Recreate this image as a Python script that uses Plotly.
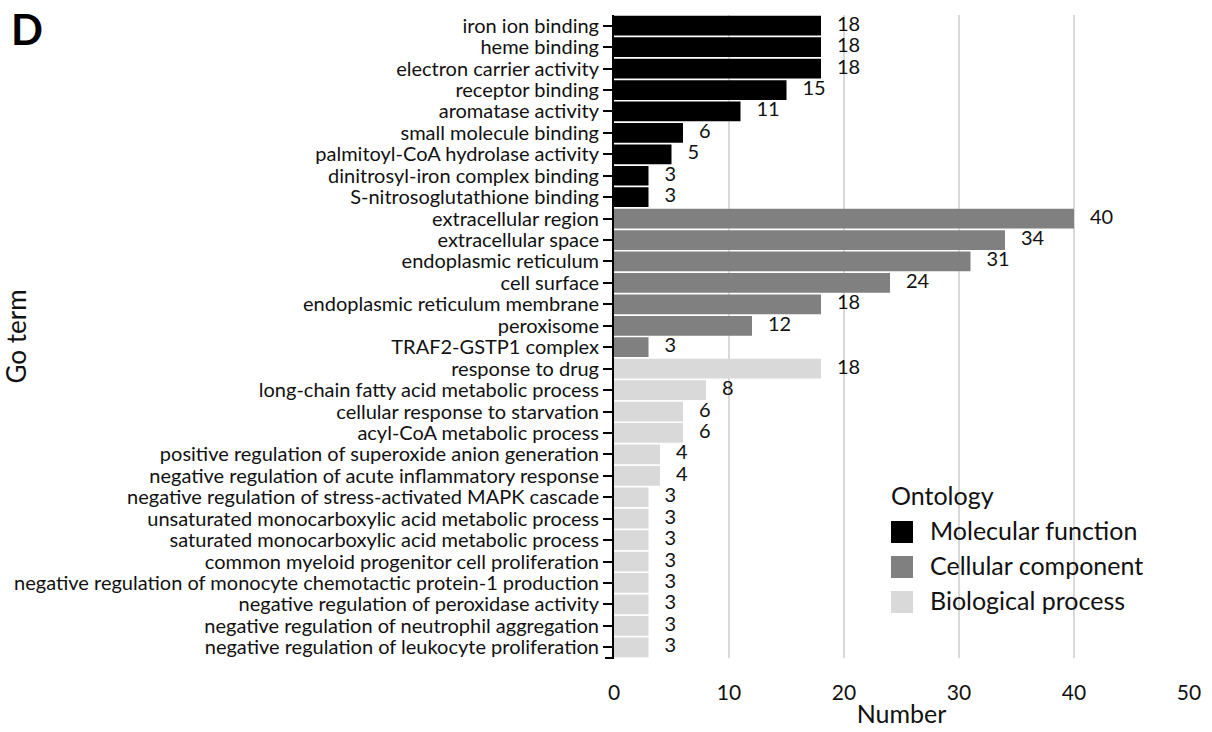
import plotly.graph_objects as go

# GO terms, top to bottom, grouped by ontology
mf_terms = ["iron ion binding", "heme binding", "electron carrier activity", "receptor binding",
            "aromatase activity", "small molecule binding", "palmitoyl-CoA hydrolase activity",
            "dinitrosyl-iron complex binding", "S-nitrosoglutathione binding"]
mf_counts = [18, 18, 18, 15, 11, 6, 5, 3, 3]

cc_terms = ["extracellular region", "extracellular space", "endoplasmic reticulum", "cell surface",
            "endoplasmic reticulum membrane", "peroxisome", "TRAF2-GSTP1 complex"]
cc_counts = [40, 34, 31, 24, 18, 12, 3]

bp_terms = ["response to drug", "long-chain fatty acid metabolic process",
            "cellular response to starvation", "acyl-CoA metabolic process",
            "positive regulation of superoxide anion generation",
            "negative regulation of acute inflammatory response",
            "negative regulation of stress-activated MAPK cascade",
            "unsaturated monocarboxylic acid metabolic process",
            "saturated monocarboxylic acid metabolic process",
            "common myeloid progenitor cell proliferation",
            "negative regulation of monocyte chemotactic protein-1 production",
            "negative regulation of peroxidase activity",
            "negative regulation of neutrophil aggregation",
            "negative regulation of leukocyte proliferation"]
bp_counts = [18, 8, 6, 6, 4, 4, 3, 3, 3, 3, 3, 3, 3, 3]

ontologies = ["Molecular function", "Cellular component", "Biological process"]
colors = ["#000000", "#808080", "#d9d9d9"]
x_ticks = [0, 10, 20, 30, 40, 50]

FONT = "Lato"
groups = [(mf_terms, mf_counts), (cc_terms, cc_counts), (bp_terms, bp_counts)]
all_terms = mf_terms + cc_terms + bp_terms

fig = go.Figure()
for (terms, counts), name, col in zip(groups, ontologies, colors):
    fig.add_trace(go.Bar(x=counts, y=terms, orientation="h", name=name,
                         marker=dict(color=col, line=dict(width=0)), showlegend=False,
                         hoverinfo="x+y"))

# value labels to the right of each bar (invisible marker sets the gap)
for terms, counts in groups:
    fig.add_trace(go.Scatter(x=counts, y=terms, mode="markers+text", text=[str(c) for c in counts],
                             textposition="middle right",
                             textfont=dict(family=FONT, size=20, color="#111111"),
                             marker=dict(size=24, opacity=0), showlegend=False, hoverinfo="skip",
                             cliponaxis=False))

# plot area in pixels
L, R, T, B = 614, 1189, 15, 658
W, H = R - L, B - T
def px(x): return (x - L) / W
def py(y): return (B - y) / H

annotations = []
# panel letter
annotations.append(dict(x=px(9), y=py(29), xref="paper", yref="paper", text="<b>D</b>",
                        showarrow=False, xanchor="left", yanchor="middle",
                        font=dict(family=FONT, size=42, color="#000000")))

# legend drawn as swatches + labels
shapes = []
annotations.append(dict(x=px(889), y=py(495), xref="paper", yref="paper", text="Ontology",
                        showarrow=False, xanchor="left", yanchor="middle",
                        font=dict(family=FONT, size=25, color="#111111")))
sw_tops = [521, 556, 591]
for top, name, col in zip(sw_tops, ontologies, colors):
    shapes.append(dict(type="rect", xref="paper", yref="paper", x0=px(891), x1=px(913),
                       y0=py(top + 22), y1=py(top), fillcolor=col, line=dict(width=0)))
    annotations.append(dict(x=px(928), y=py(top + 9), xref="paper", yref="paper", text=name,
                            showarrow=False, xanchor="left", yanchor="middle",
                            font=dict(family=FONT, size=25, color="#111111")))

# closing tick at the bottom of the y axis
shapes.append(dict(type="line", xref="paper", yref="paper", x0=px(605), x1=0, y0=0, y1=0,
                   line=dict(color="#000000", width=2)))

n = len(all_terms)
fig.update_layout(
    width=1212, height=732,
    margin=dict(l=L, r=1212 - R, t=T, b=732 - B, pad=0),
    plot_bgcolor="white", paper_bgcolor="white",
    bargap=0.08, barmode="overlay",
    font=dict(family=FONT, color="#111111"),
    annotations=annotations, shapes=shapes,
    xaxis=dict(range=[0, 50], tickvals=x_ticks, showgrid=True, gridcolor="#d9d9d9",
               gridwidth=2, zeroline=False, showline=False, ticks="", automargin=False,
               tickfont=dict(family=FONT, size=21), ticklabelstandoff=20,
               title=dict(text="Number", font=dict(family=FONT, size=25), standoff=2)),
    yaxis=dict(categoryorder="array", categoryarray=all_terms, range=[n - 0.5, -0.5],
               tickmode="array", tickvals=all_terms, automargin=False,
               showline=True, linecolor="#000000", linewidth=2, ticks="outside",
               ticklen=9, tickwidth=2, tickcolor="#000000", showgrid=False,
               tickfont=dict(family=FONT, size=20),
               title=dict(text="Go term", font=dict(family=FONT, size=26), standoff=0)),
)

fig.write_html("out.html")
